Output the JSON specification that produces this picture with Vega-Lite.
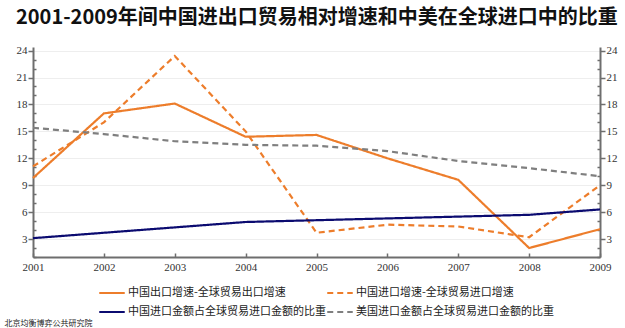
{
  "$schema": "https://vega.github.io/schema/vega-lite/v6.json",
  "width": 567,
  "height": 210,
  "autosize": {"type": "none"},
  "padding": {"left": 33, "top": 47, "right": 25, "bottom": 71},
  "background": "white",
  "title": {
    "text": "2001-2009年间中国进出口贸易相对增速和中美在全球进口中的比重",
    "anchor": "start",
    "frame": "group",
    "dx": -17,
    "offset": 17,
    "font": "Noto Sans CJK SC",
    "fontSize": 20,
    "fontWeight": "bold",
    "color": "#111"
  },
  "config": {
    "view": {"stroke": null},
    "axis": {
      "labelFont": "Liberation Serif",
      "labelFontSize": 11,
      "labelColor": "#333",
      "domainColor": "#6e6e6e",
      "domainWidth": 2,
      "tickColor": "#6e6e6e",
      "tickWidth": 1.5
    }
  },
  "data": {
    "values": [
      {"year": 2001, "series": "中国出口增速-全球贸易出口增速", "value": 9.8},
      {"year": 2002, "series": "中国出口增速-全球贸易出口增速", "value": 17.0},
      {"year": 2003, "series": "中国出口增速-全球贸易出口增速", "value": 18.1},
      {"year": 2004, "series": "中国出口增速-全球贸易出口增速", "value": 14.4},
      {"year": 2005, "series": "中国出口增速-全球贸易出口增速", "value": 14.6},
      {"year": 2006, "series": "中国出口增速-全球贸易出口增速", "value": 12.0},
      {"year": 2007, "series": "中国出口增速-全球贸易出口增速", "value": 9.6},
      {"year": 2008, "series": "中国出口增速-全球贸易出口增速", "value": 2.0},
      {"year": 2009, "series": "中国出口增速-全球贸易出口增速", "value": 4.1},
      {"year": 2001, "series": "中国进口增速-全球贸易进口增速", "value": 11.1},
      {"year": 2002, "series": "中国进口增速-全球贸易进口增速", "value": 16.0},
      {"year": 2003, "series": "中国进口增速-全球贸易进口增速", "value": 23.4},
      {"year": 2004, "series": "中国进口增速-全球贸易进口增速", "value": 15.0},
      {"year": 2005, "series": "中国进口增速-全球贸易进口增速", "value": 3.7},
      {"year": 2006, "series": "中国进口增速-全球贸易进口增速", "value": 4.6},
      {"year": 2007, "series": "中国进口增速-全球贸易进口增速", "value": 4.4},
      {"year": 2008, "series": "中国进口增速-全球贸易进口增速", "value": 3.2},
      {"year": 2009, "series": "中国进口增速-全球贸易进口增速", "value": 9.0},
      {"year": 2001, "series": "中国进口金额占全球贸易进口金额的比重", "value": 3.1},
      {"year": 2002, "series": "中国进口金额占全球贸易进口金额的比重", "value": 3.7},
      {"year": 2003, "series": "中国进口金额占全球贸易进口金额的比重", "value": 4.3},
      {"year": 2004, "series": "中国进口金额占全球贸易进口金额的比重", "value": 4.9},
      {"year": 2005, "series": "中国进口金额占全球贸易进口金额的比重", "value": 5.1},
      {"year": 2006, "series": "中国进口金额占全球贸易进口金额的比重", "value": 5.3},
      {"year": 2007, "series": "中国进口金额占全球贸易进口金额的比重", "value": 5.5},
      {"year": 2008, "series": "中国进口金额占全球贸易进口金额的比重", "value": 5.7},
      {"year": 2009, "series": "中国进口金额占全球贸易进口金额的比重", "value": 6.3},
      {"year": 2001, "series": "美国进口金额占全球贸易进口金额的比重", "value": 15.4},
      {"year": 2002, "series": "美国进口金额占全球贸易进口金额的比重", "value": 14.7},
      {"year": 2003, "series": "美国进口金额占全球贸易进口金额的比重", "value": 13.9},
      {"year": 2004, "series": "美国进口金额占全球贸易进口金额的比重", "value": 13.5},
      {"year": 2005, "series": "美国进口金额占全球贸易进口金额的比重", "value": 13.4},
      {"year": 2006, "series": "美国进口金额占全球贸易进口金额的比重", "value": 12.8},
      {"year": 2007, "series": "美国进口金额占全球贸易进口金额的比重", "value": 11.7},
      {"year": 2008, "series": "美国进口金额占全球贸易进口金额的比重", "value": 10.9},
      {"year": 2009, "series": "美国进口金额占全球贸易进口金额的比重", "value": 10.0}
    ]
  },
  "layer": [
    {
      "mark": {"type": "line", "strokeWidth": 2.2},
      "encoding": {
        "x": {
          "field": "year",
          "type": "quantitative",
          "scale": {"domain": [2001, 2009], "nice": false, "zero": false},
          "axis": {
            "values": [2001, 2001.5, 2002, 2002.5, 2003, 2003.5, 2004, 2004.5, 2005, 2005.5, 2006, 2006.5, 2007, 2007.5, 2008, 2008.5, 2009],
            "labelExpr": "datum.value % 1 === 0 ? format(datum.value, 'd') : ''",
            "tickSize": {"condition": {"test": "datum.value % 1 === 0", "value": -4}, "value": -3},
            "grid": false,
            "labelPadding": 8,
            "labelFlush": false,
            "labelOverlap": false,
            "title": "北京均衡博弈公共研究院",
            "titleFont": "Noto Sans CJK SC",
            "titleFontSize": 8,
            "titleFontWeight": "normal",
            "titleColor": "#222",
            "titleAnchor": "start",
            "titleAlign": "left",
            "titleBaseline": "middle",
            "titleX": -29,
            "titleY": 66
          }
        },
        "y": {
          "field": "value",
          "type": "quantitative",
          "scale": {"domain": [1, 24.4], "nice": false, "zero": false},
          "axis": {
            "orient": "left",
            "values": [1, 2, 3, 4, 5, 6, 7, 8, 9, 10, 11, 12, 13, 14, 15, 16, 17, 18, 19, 20, 21, 22, 23, 24],
            "labelExpr": "datum.value % 3 === 0 ? datum.label : ''",
            "tickSize": {"condition": {"test": "datum.value % 3 === 0", "value": 5}, "value": -3},
            "labelPadding": 1,
            "grid": true,
            "gridColor": {"condition": {"test": "datum.value % 3 === 0", "value": "#eeeeee"}, "value": "transparent"},
            "gridWidth": 1,
            "title": null
          }
        },
        "color": {
          "field": "series",
          "type": "nominal",
          "scale": {
            "domain": ["中国出口增速-全球贸易出口增速", "中国进口金额占全球贸易进口金额的比重", "中国进口增速-全球贸易进口增速", "美国进口金额占全球贸易进口金额的比重"],
            "range": ["#ED7D2B", "#0B0B70", "#ED7D2B", "#7f7f7f"]
          },
          "legend": {
            "orient": "none",
            "legendX": 65,
            "legendY": 232,
            "columns": 2,
            "columnPadding": -14,
            "rowPadding": -14,
            "title": null,
            "symbolType": "stroke",
            "symbolSize": 650,
            "symbolStrokeWidth": 2.2,
            "labelFont": "Noto Sans CJK SC",
            "labelFontSize": 11,
            "labelColor": "#222",
            "labelOffset": 2,
            "labelLimit": 300
          }
        },
        "strokeDash": {
          "field": "series",
          "type": "nominal",
          "scale": {
            "domain": ["中国出口增速-全球贸易出口增速", "中国进口金额占全球贸易进口金额的比重", "中国进口增速-全球贸易进口增速", "美国进口金额占全球贸易进口金额的比重"],
            "range": [[1, 0], [1, 0], [6, 4], [6, 4]]
          },
          "legend": null
        }
      }
    },
    {
      "mark": {"type": "line", "strokeOpacity": 0},
      "encoding": {
        "x": {"field": "year", "type": "quantitative"},
        "detail": {"field": "series"},
        "y": {
          "field": "value",
          "type": "quantitative",
          "axis": {
            "orient": "right",
            "values": [1, 2, 3, 4, 5, 6, 7, 8, 9, 10, 11, 12, 13, 14, 15, 16, 17, 18, 19, 20, 21, 22, 23, 24],
            "labelExpr": "datum.value % 3 === 0 ? datum.label : ''",
            "tickSize": {"condition": {"test": "datum.value % 3 === 0", "value": 5}, "value": -3},
            "labelPadding": 1,
            "grid": false,
            "title": null
          }
        }
      }
    }
  ],
  "resolve": {"axis": {"y": "independent"}}
}
